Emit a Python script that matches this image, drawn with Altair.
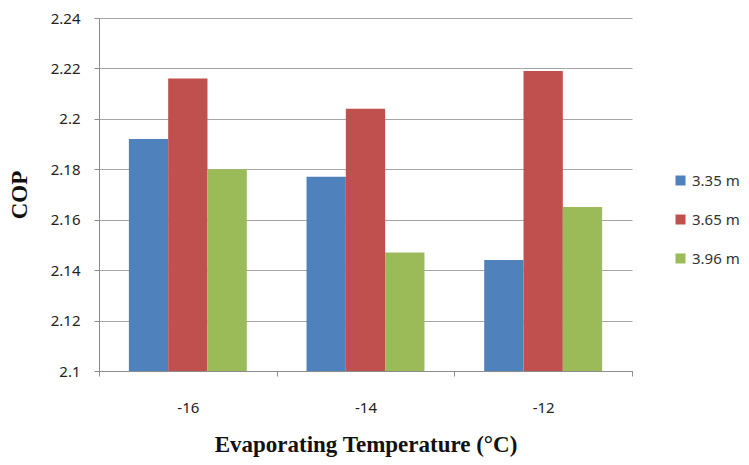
import altair as alt
import pandas as pd

temps = ["-16", "-14", "-12"]
series = ["3.35 m", "3.65 m", "3.96 m"]
cop_335 = [2.192, 2.177, 2.144]
cop_365 = [2.216, 2.204, 2.219]
cop_396 = [2.180, 2.147, 2.165]
y_ticks = [2.10, 2.12, 2.14, 2.16, 2.18, 2.20, 2.22, 2.24]
colors = ["#4F81BD", "#C0504D", "#9BBB59"]

rows = []
for s, vals in zip(series, [cop_335, cop_365, cop_396]):
    for t, v in zip(temps, vals):
        rows.append({"temp": t, "series": s, "cop": v})
df = pd.DataFrame(rows)

chart = alt.Chart(df).mark_bar().encode(
    x=alt.X(
        "temp:N",
        sort=temps,
        scale=alt.Scale(paddingInner=0, paddingOuter=0),
        axis=alt.Axis(
            title="Evaporating Temperature (°C)",
            tickBand="extent",
            labelAngle=0,
            labelFont="Noto Sans",
            labelFontSize=15,
            labelColor="#222222",
            labelPadding=24,
            tickSize=5,
            tickColor="#8C8C8C",
            domainColor="#8C8C8C",
            titleFont="Liberation Serif",
            titleFontSize=23,
            titleFontWeight="bold",
            titleColor="#111111",
            titlePadding=18,
            grid=False,
        ),
    ),
    xOffset=alt.XOffset(
        "series:N",
        sort=series,
        scale=alt.Scale(paddingInner=0, paddingOuter=0.76),
    ),
    y=alt.Y(
        "cop:Q",
        scale=alt.Scale(domain=[2.1, 2.24], nice=False, zero=False),
        axis=alt.Axis(
            title="COP",
            values=y_ticks,
            labelExpr="format(datum.value, '.2~f')",
            labelFont="Noto Sans",
            labelFontSize=15,
            labelColor="#222222",
            labelPadding=14,
            tickSize=5,
            tickColor="#8C8C8C",
            domainColor="#8C8C8C",
            gridColor="#A6A6A6",
            gridWidth=1,
            titleFont="Liberation Serif",
            titleFontSize=23,
            titleFontWeight="bold",
            titleColor="#111111",
            titlePadding=19,
        ),
    ),
    y2=alt.datum(2.1),
    color=alt.Color(
        "series:N",
        sort=series,
        scale=alt.Scale(domain=series, range=colors),
        legend=alt.Legend(
            title=None,
            orient="none",
            legendX=574,
            legendY=155,
            symbolType="square",
            symbolSize=100,
            symbolStrokeWidth=0,
            labelFont="Noto Sans",
            labelFontSize=15,
            labelColor="#333333",
            rowPadding=23,
            labelOffset=4,
        ),
    ),
).properties(
    width=533,
    height=353,
    autosize=alt.AutoSizeParams(type="none"),
    padding={"left": 91, "top": 10, "right": 109, "bottom": 86},
).configure_view(stroke=None)

chart.save("out.html", embed_options={"renderer": "svg", "actions": False})
